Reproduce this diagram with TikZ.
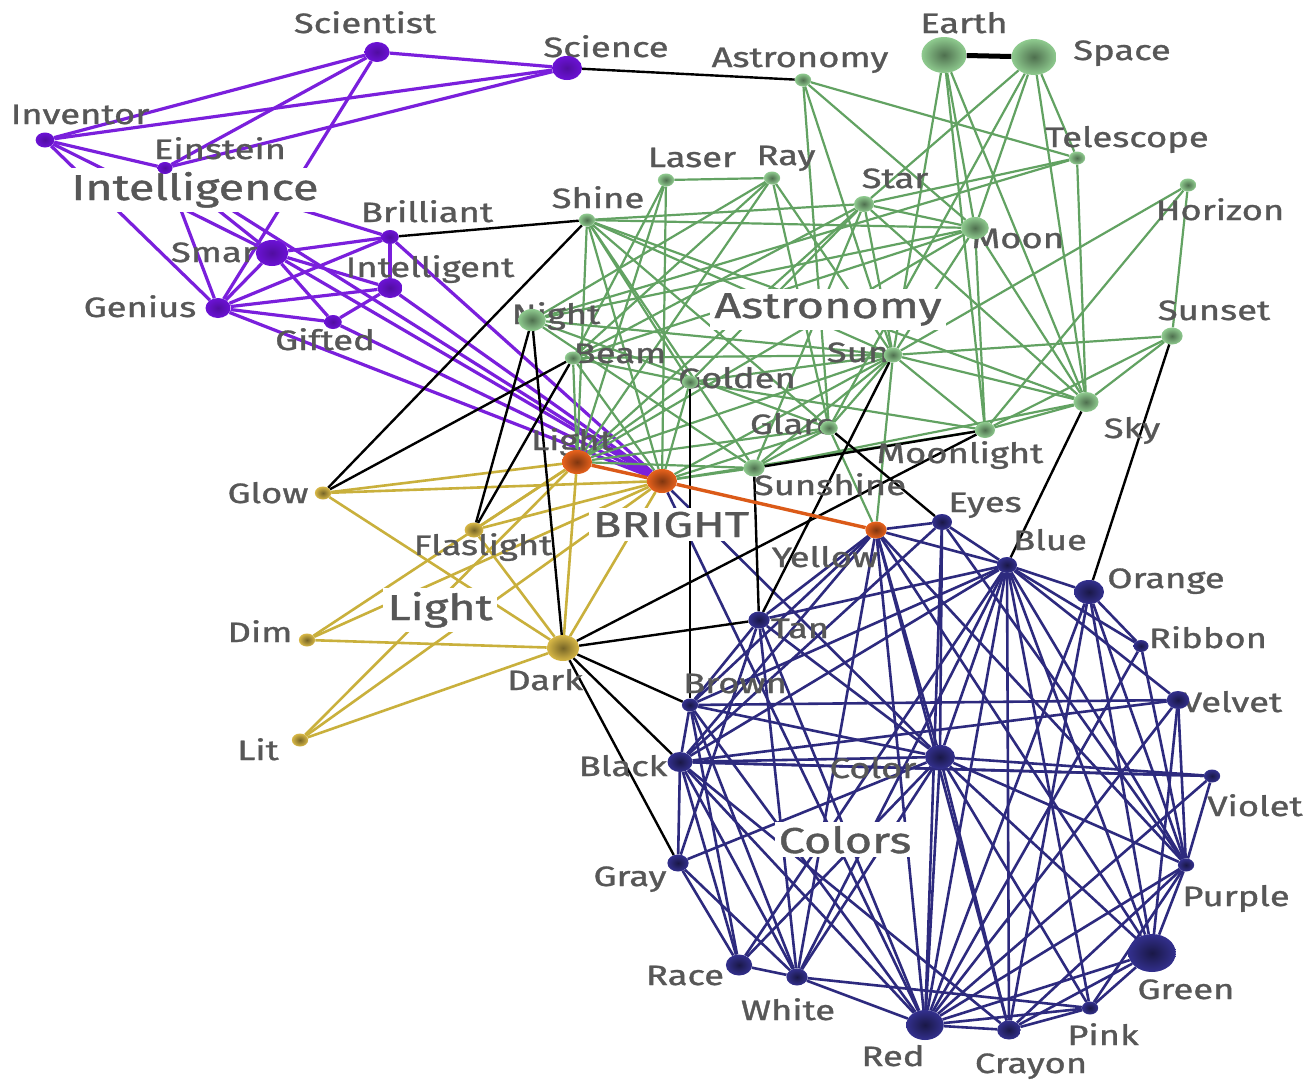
\documentclass[tikz,border=0pt]{standalone}
\usepackage{graphicx}
\usepackage{fontspec}
\setmainfont{Fira Sans}[FakeBold=1]
\usetikzlibrary{shapes.geometric}
\pgfdeclarelayer{edges}
\pgfsetlayers{edges,main}

\definecolor{lbgray}{HTML}{575757}
\definecolor{cpur}{HTML}{7A1FDC}
\definecolor{cgrn}{HTML}{62A262}
\definecolor{cgld}{HTML}{C9B03C}
\definecolor{cnav}{HTML}{2D2A7E}
\definecolor{corg}{HTML}{DB5A18}
\definecolor{npur}{HTML}{6C12D6}
\definecolor{ngrn}{HTML}{8FCB8F}
\definecolor{norg}{HTML}{E8621C}
\definecolor{ngld}{HTML}{D8B846}
\definecolor{nnav}{HTML}{33308E}

\newcommand{\wide}[1]{\scalebox{1.3}[1]{#1}}

\tikzset{
  dot/.style={ellipse, inner sep=0pt, minimum width={1.25*#1}, minimum height={#1}},
  pn/.style={dot=#1, shading=radial, inner color=npur!75!black, outer color=npur},
  gn/.style={dot=#1, shading=radial, inner color=ngrn!55!black, outer color=ngrn},
  on/.style={dot=#1, shading=radial, inner color=norg!55!black, outer color=norg},
  yn/.style={dot=#1, shading=radial, inner color=ngld!55!black, outer color=ngld},
  nn/.style={dot=#1, shading=radial, inner color=nnav!50!black, outer color=nnav},
  lb/.style={anchor=base, inner sep=0pt, text=lbgray, font=\fontsize{28}{30}\selectfont},
  big/.style={anchor=base, inner sep=4pt, fill=white, text=lbgray, font=\fontsize{36}{40}\selectfont},
  pe/.style={draw=cpur, line width=3.2pt},
  ge/.style={draw=cgrn, line width=2.2pt},
  ye/.style={draw=cgld, line width=2.6pt},
  ne/.style={draw=cnav, line width=2.6pt},
  oe/.style={draw=corg, line width=3.4pt},
  ke/.style={draw=black, line width=2.4pt},
}

\begin{document}
\begin{tikzpicture}[x=1pt, y=-1pt]
\useasboundingbox (0,0) rectangle (1310,1080);

% ---------- labels ----------
\node[lb] (l-sci) at (365,33) {\wide{Scientist}};
\node[lb] (l-scn) at (606,57) {\wide{Science}};
\node[lb] (l-ast) at (800,67) {\wide{Astronomy}};
\node[lb] (l-ear) at (964,33) {\wide{Earth}};
\node[lb] (l-spa) at (1122,60) {\wide{Space}};
\node[lb] (l-inv) at (80,124) {\wide{Inventor}};
\node[lb] (l-ein) at (220,159) {\wide{Einstein}};
\node[lb] (l-tel) at (1127,147) {\wide{Telescope}};
\node[lb] (l-las) at (692,167) {\wide{Laser}};
\node[lb] (l-ray) at (786,165) {\wide{Ray}};
\node[lb] (l-sta) at (895,188) {\wide{Star}};
\node[lb] (l-shi) at (598,208) {\wide{Shine}};
\node[lb] (l-bri) at (427,222) {\wide{Brilliant}};
\node[lb] (l-hor) at (1220,220) {\wide{Horizon}};
\node[lb] (l-moo) at (1018,248) {\wide{Moon}};
\node[lb] (l-sma) at (220,262) {\wide{Smart}};
\node[lb] (l-int) at (430,277) {\wide{Intelligent}};
\node[lb] (l-gen) at (140,317) {\wide{Genius}};
\node[lb] (l-gif) at (325,350) {\wide{Gifted}};
\node[lb] (l-nig) at (556,324) {\wide{Night}};
\node[lb] (l-sst) at (1214,320) {\wide{Sunset}};
\node[lb] (l-bea) at (620,363) {\wide{Beam}};
\node[lb] (l-sun) at (858,362) {\wide{Sun}};
\node[lb] (l-gol) at (737,388) {\wide{Golden}};
\node[lb] (l-gla) at (793,434) {\wide{Glare}};
\node[lb] (l-sky) at (1132,438) {\wide{Sky}};
\node[lb] (l-lig) at (572,450) {\wide{Light}};
\node[lb] (l-mlt) at (960,463) {\wide{Moonlight}};
\node[lb] (l-ssh) at (830,495) {\wide{Sunshine}};
\node[lb] (l-glo) at (268,503) {\wide{Glow}};
\node[lb] (l-eye) at (985,512) {\wide{Eyes}};
\node[lb] (l-fla) at (483,555) {\wide{Flaslight}};
\node[lb] (l-blu) at (1050,550) {\wide{Blue}};
\node[lb] (l-yel) at (825,567) {\wide{Yellow}};
\node[lb] (l-ora) at (1166,588) {\wide{Orange}};
\node[lb] (l-dim) at (260,642) {\wide{Dim}};
\node[lb] (l-tan) at (800,638) {\wide{Tan}};
\node[lb] (l-rib) at (1208,648) {\wide{Ribbon}};
\node[lb] (l-drk) at (545,690) {\wide{Dark}};
\node[lb] (l-bro) at (735,693) {\wide{Brown}};
\node[lb] (l-vel) at (1232,712) {\wide{Velvet}};
\node[lb] (l-lit) at (258,760) {\wide{Lit}};
\node[lb] (l-bla) at (623,776) {\wide{Black}};
\node[lb] (l-col) at (873,778) {\wide{Color}};
\node[lb] (l-vio) at (1255,816) {\wide{Violet}};
\node[lb] (l-gra) at (630,886) {\wide{Gray}};
\node[lb] (l-pur) at (1236,906) {\wide{Purple}};
\node[lb] (l-rac) at (685,985) {\wide{Race}};
\node[lb] (l-gre) at (1186,999) {\wide{Green}};
\node[lb] (l-whi) at (788,1020) {\wide{White}};
\node[lb] (l-pin) at (1103,1045) {\wide{Pink}};
\node[lb] (l-red) at (893,1066) {\wide{Red}};
\node[lb] (l-cra) at (1031,1073) {\wide{Crayon}};

% ---------- cluster titles ----------
\node[big] (t-int) at (195,200) {\wide{Intelligence}};
\node[big] (t-ast) at (828,318) {\wide{Astronomy}};
\node[big] (t-brt) at (671,537) {\wide{BRIGHT}};
\node[big] (t-lig) at (440,620) {\wide{Light}};
\node[big] (t-col) at (845,853) {\wide{Colors}};

% ---------- Intelligence nodes ----------
\node[pn=20] (sci) at (377,52) {};
\node[pn=24] (scn) at (567,68) {};
\node[pn=15] (inv) at (45,140) {};
\node[pn=12] (ein) at (165,168) {};
\node[pn=26] (sma) at (272,253) {};
\node[pn=14] (bri) at (390,237) {};
\node[pn=20] (int) at (390,288) {};
\node[pn=20] (gen) at (218,308) {};
\node[pn=14] (gif) at (333,322) {};

% ---------- Astronomy nodes ----------
\node[gn=13] (ast) at (803,80) {};
\node[gn=36] (ear) at (944,55) {};
\node[gn=36] (spa) at (1034,57) {};
\node[gn=13] (tel) at (1077,158) {};
\node[gn=13] (las) at (666,180) {};
\node[gn=13] (ray) at (772,178) {};
\node[gn=16] (sta) at (864,204) {};
\node[gn=13] (shi) at (587,220) {};
\node[gn=13] (hor) at (1188,185) {};
\node[gn=22] (moo) at (975,228) {};
\node[gn=22] (nig) at (532,320) {};
\node[gn=13] (bea) at (573,358) {};
\node[gn=13] (gol) at (690,382) {};
\node[gn=15] (sun) at (893,355) {};
\node[gn=17] (sst) at (1172,336) {};
\node[gn=20] (sky) at (1086,402) {};
\node[gn=14] (gla) at (829,428) {};
\node[gn=16] (mlt) at (985,430) {};
\node[gn=17] (ssh) at (754,468) {};

% ---------- BRIGHT nodes ----------
\node[on=24] (lig) at (577,462) {};
\node[on=24] (brt) at (662,481) {};
\node[on=17] (yel) at (876,530) {};

% ---------- Light nodes ----------
\node[yn=13] (glo) at (323,493) {};
\node[yn=15] (fla) at (474,530) {};
\node[yn=13] (dim) at (307,640) {};
\node[yn=26] (drk) at (563,648) {};
\node[yn=13] (lit) at (300,740) {};

% ---------- Colors nodes ----------
\node[nn=16] (eye) at (942,522) {};
\node[nn=16] (blu) at (1007,565) {};
\node[nn=24] (ora) at (1089,592) {};
\node[nn=12] (rib) at (1141,646) {};
\node[nn=18] (vel) at (1178,700) {};
\node[nn=17] (tan) at (759,620) {};
\node[nn=13] (bro) at (690,705) {};
\node[nn=20] (bla) at (680,762) {};
\node[nn=24] (col) at (940,757) {};
\node[nn=13] (vio) at (1212,776) {};
\node[nn=17] (gra) at (678,863) {};
\node[nn=13] (pur) at (1186,865) {};
\node[nn=21] (rac) at (739,965) {};
\node[nn=17] (whi) at (797,977) {};
\node[nn=38] (gre) at (1152,953) {};
\node[nn=30] (red) at (925,1025) {};
\node[nn=19] (cra) at (1009,1030) {};
\node[nn=13] (pin) at (1090,1008) {};

% ---------- connectors ----------
\begin{pgfonlayer}{edges}
\fill[white] (0,0) rectangle (1310,1080);
% Intelligence
\foreach \a/\b in {sci/scn, sci/inv, sci/ein, sci/gen, scn/inv, scn/ein, inv/ein,
  inv/sma, inv/gen, ein/sma, ein/gen, ein/bri, sma/bri, sma/int, sma/gen, sma/gif,
  gen/bri, gen/int, gen/gif, bri/int, gif/int,
  sma/brt, bri/brt, int/brt, gen/brt, gif/brt, ein/brt}
  \draw[pe] (\a) -- (\b);
% Astronomy
\foreach \a/\b in {ast/tel, ast/moo, ast/sun, ast/gla,
  ear/moo, ear/sky, ear/sun, ear/mlt,
  spa/sta, spa/moo, spa/tel, spa/gla, spa/sky,
  tel/sta, tel/sky, tel/nig,
  las/ray, las/lig, las/bea, las/brt,
  ray/lig, ray/bea, ray/sun, ray/gla, ray/nig,
  sta/shi, sta/moo, sta/sun, sta/sky, sta/lig, sta/gol, sta/ssh, sta/bea,
  shi/moo, shi/sun, shi/gla, shi/gol, shi/ssh, shi/brt, shi/lig, shi/sky,
  hor/sst, hor/sun, hor/mlt,
  moo/sky, moo/nig, moo/bea, moo/sun, moo/mlt, moo/lig,
  nig/sun, nig/gla, nig/ssh,
  bea/sun, bea/gol, bea/lig, bea/brt,
  gol/sun, gol/brt, gol/lig, gol/mlt,
  sun/sst, sun/sky, sun/mlt, sun/gla, sun/ssh, sun/brt, sun/lig, sun/yel,
  sst/sky, sst/mlt, sky/mlt, sky/ssh,
  gla/brt, gla/lig, gla/ssh, gla/yel,
  mlt/brt, ssh/brt, ssh/lig}
  \draw[ge] (\a) -- (\b);
% Light
\foreach \a/\b in {glo/lig, glo/brt, glo/drk, fla/lig, fla/brt, fla/drk,
  dim/lig, dim/brt, dim/drk, lit/lig, lit/brt, lit/drk, lig/drk, brt/drk}
  \draw[ye] (\a) -- (\b);
% Colors
\foreach \a/\b in {yel/eye, yel/blu, yel/tan, yel/bro, yel/bla, yel/col, yel/whi,
  yel/red, yel/gre, yel/pur, yel/cra,
  eye/blu, eye/col, eye/red, eye/pur, eye/bla,
  blu/ora, blu/rib, blu/vel, blu/pur, blu/gre, blu/pin, blu/cra, blu/red, blu/col,
  blu/bla, blu/bro, blu/tan, blu/whi, blu/rac,
  ora/pur, ora/gre, ora/red, ora/cra, ora/rib,
  rib/pur, rib/red, vel/bla, vel/pur, vel/gre, vel/red,
  vio/col, vio/bla, vio/pur, vio/red,
  tan/col, tan/whi, tan/red, tan/gra, tan/bro,
  bro/bla, bro/col, bro/vel, bro/whi, bro/rac, bro/red,
  bla/col, bla/gra, bla/rac, bla/whi, bla/red, bla/vio, bla/cra,
  col/gra, col/red, col/cra, col/pin, col/gre, col/pur, col/whi, col/rac,
  gra/rac, gra/whi, pur/gre, pur/red, pur/pin, pur/cra,
  rac/whi, whi/red, whi/pin, red/cra, red/pin, red/gre, cra/pin, cra/gre, pin/gre,
  brt/col, brt/red}
  \draw[ne] (\a) -- (\b);
% links between groups
\foreach \a/\b in {scn/ast, bri/shi, shi/glo, bea/glo, bea/fla, nig/fla, nig/drk,
  gol/bro, ssh/tan, sun/tan, drk/mlt, ssh/mlt, gla/eye, sky/blu, sst/ora,
  drk/tan, drk/bro, drk/bla, drk/gra}
  \draw[ke] (\a) -- (\b);
\draw[black, line width=5pt] (ear) -- (spa);
\draw[oe] (lig) -- (brt);
\draw[oe] (brt) -- (yel);
\end{pgfonlayer}
\end{tikzpicture}
\end{document}
